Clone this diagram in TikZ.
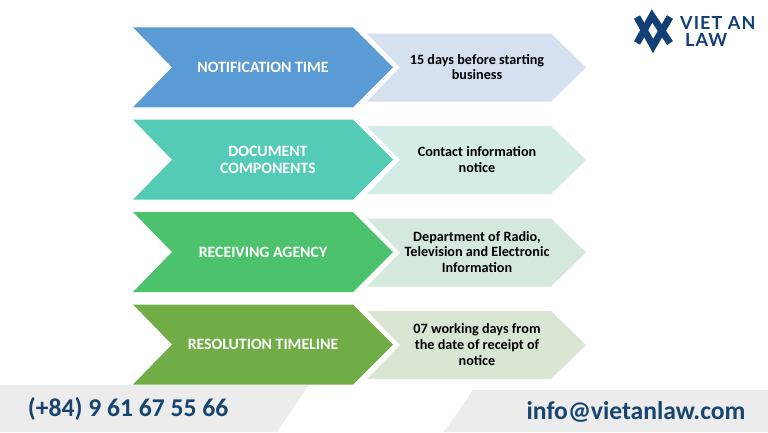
\documentclass[tikz,border=0pt]{standalone}
\usepackage{fontspec}
\setmainfont{Carlito}
\newfontfamily\logofont[LetterSpace=6]{Lato}
\definecolor{logoblue}{HTML}{123F75}
\definecolor{footgray}{HTML}{ECECEC}
\definecolor{foottext}{HTML}{17456F}
\definecolor{darkone}{HTML}{5B9BD5}
\definecolor{darktwo}{HTML}{53CBB6}
\definecolor{darkthree}{HTML}{4CC26C}
\definecolor{darkfour}{HTML}{70AD47}
\definecolor{lightone}{HTML}{D5E0F1}
\definecolor{lighttwo}{HTML}{D3ECE7}
\definecolor{lightthree}{HTML}{D4E8DC}
\definecolor{lightfour}{HTML}{DAE6D4}
\tikzset{
  title/.style={font=\bfseries\fontsize{15.8}{17.2}\selectfont,text=white,align=center},
  detail/.style={font=\bfseries\fontsize{14.2}{15.6}\selectfont,text=black,align=center},
  foot/.style={font=\bfseries\fontsize{25.6}{28}\selectfont,text=foottext},
  brand/.style={font=\logofont\bfseries\fontsize{18}{18}\selectfont,text=logoblue,anchor=west,inner sep=0pt},
  logoline/.style={logoblue,line width=7pt,miter limit=10}
}
\begin{document}
\begin{tikzpicture}[x=1pt,y=-1pt]

      \useasboundingbox (0,0) rectangle (768,432);

      % big arrows
      \fill[darkone]   (133,27.3)  -- (353,27.3)  -- (393,67.3)  -- (353,107.3) -- (133,107.3) -- (172,67.3)  -- cycle;
      \fill[darktwo]   (133,119.7) -- (353,119.7) -- (393,159.7) -- (353,199.7) -- (133,199.7) -- (172,159.7) -- cycle;
      \fill[darkthree] (133,212)   -- (353,212)   -- (393,252)   -- (353,292)   -- (133,292)   -- (172,252)   -- cycle;
      \fill[darkfour]  (133,304.5) -- (353,304.5) -- (393,344.5) -- (353,384.5) -- (133,384.5) -- (172,344.5) -- cycle;

      % small arrows
      \fill[lightone]   (367,33.5)  -- (551,33.5)  -- (586,67.5)  -- (551,101.5) -- (367,101.5) -- (400,67.5)  -- cycle;
      \fill[lighttwo]   (367,126)   -- (551,126)   -- (586,160)   -- (551,194)   -- (367,194)   -- (400,160)   -- cycle;
      \fill[lightthree] (367,218.5) -- (551,218.5) -- (586,252.5) -- (551,286.5) -- (367,286.5) -- (400,252.5) -- cycle;
      \fill[lightfour]  (367,311)   -- (551,311)   -- (586,345)   -- (551,379)   -- (367,379)   -- (400,345)   -- cycle;

      % footer
      \fill[footgray] (0,385) -- (309,385) -- (277,432) -- (0,432) -- cycle;
      \fill[footgray] (473,390) -- (768,390) -- (768,432) -- (444,432) -- cycle;

      % logo
      \draw[logoline] (637,17) -- (653,46) -- (670,17);
      \draw[logoline] (637,43) -- (652,16) -- (670,43);

      \node[title] (t1) at (263,67)  {NOTIFICATION TIME};
      \node[title] (t2) at (268,159.5) {DOCUMENT\\COMPONENTS};
      \node[title] (t3) at (263,252)   {RECEIVING AGENCY};
      \node[title] (t4) at (263,344.5) {RESOLUTION TIMELINE};

      \node[detail] (d1) at (477,67)  {15 days before starting\\business};
      \node[detail] (d2) at (477,159.5) {Contact information\\notice};
      \node[detail] (d3) at (477,252) {Department of Radio,\\Television and Electronic\\Information};
      \node[detail] (d4) at (477,344.5) {07 working days from\\the date of receipt of\\notice};

      \node[foot] (phone) at (128,409) {(+84) 9 61 67 55 66};
      \node[foot] (mail)  at (636,412) {info@vietanlaw.com};

      \node[brand] (viet) at (680,23) {VIET AN};
      \node[brand] (law)  at (685,40) {LAW};

    \end{tikzpicture}
\end{document}
